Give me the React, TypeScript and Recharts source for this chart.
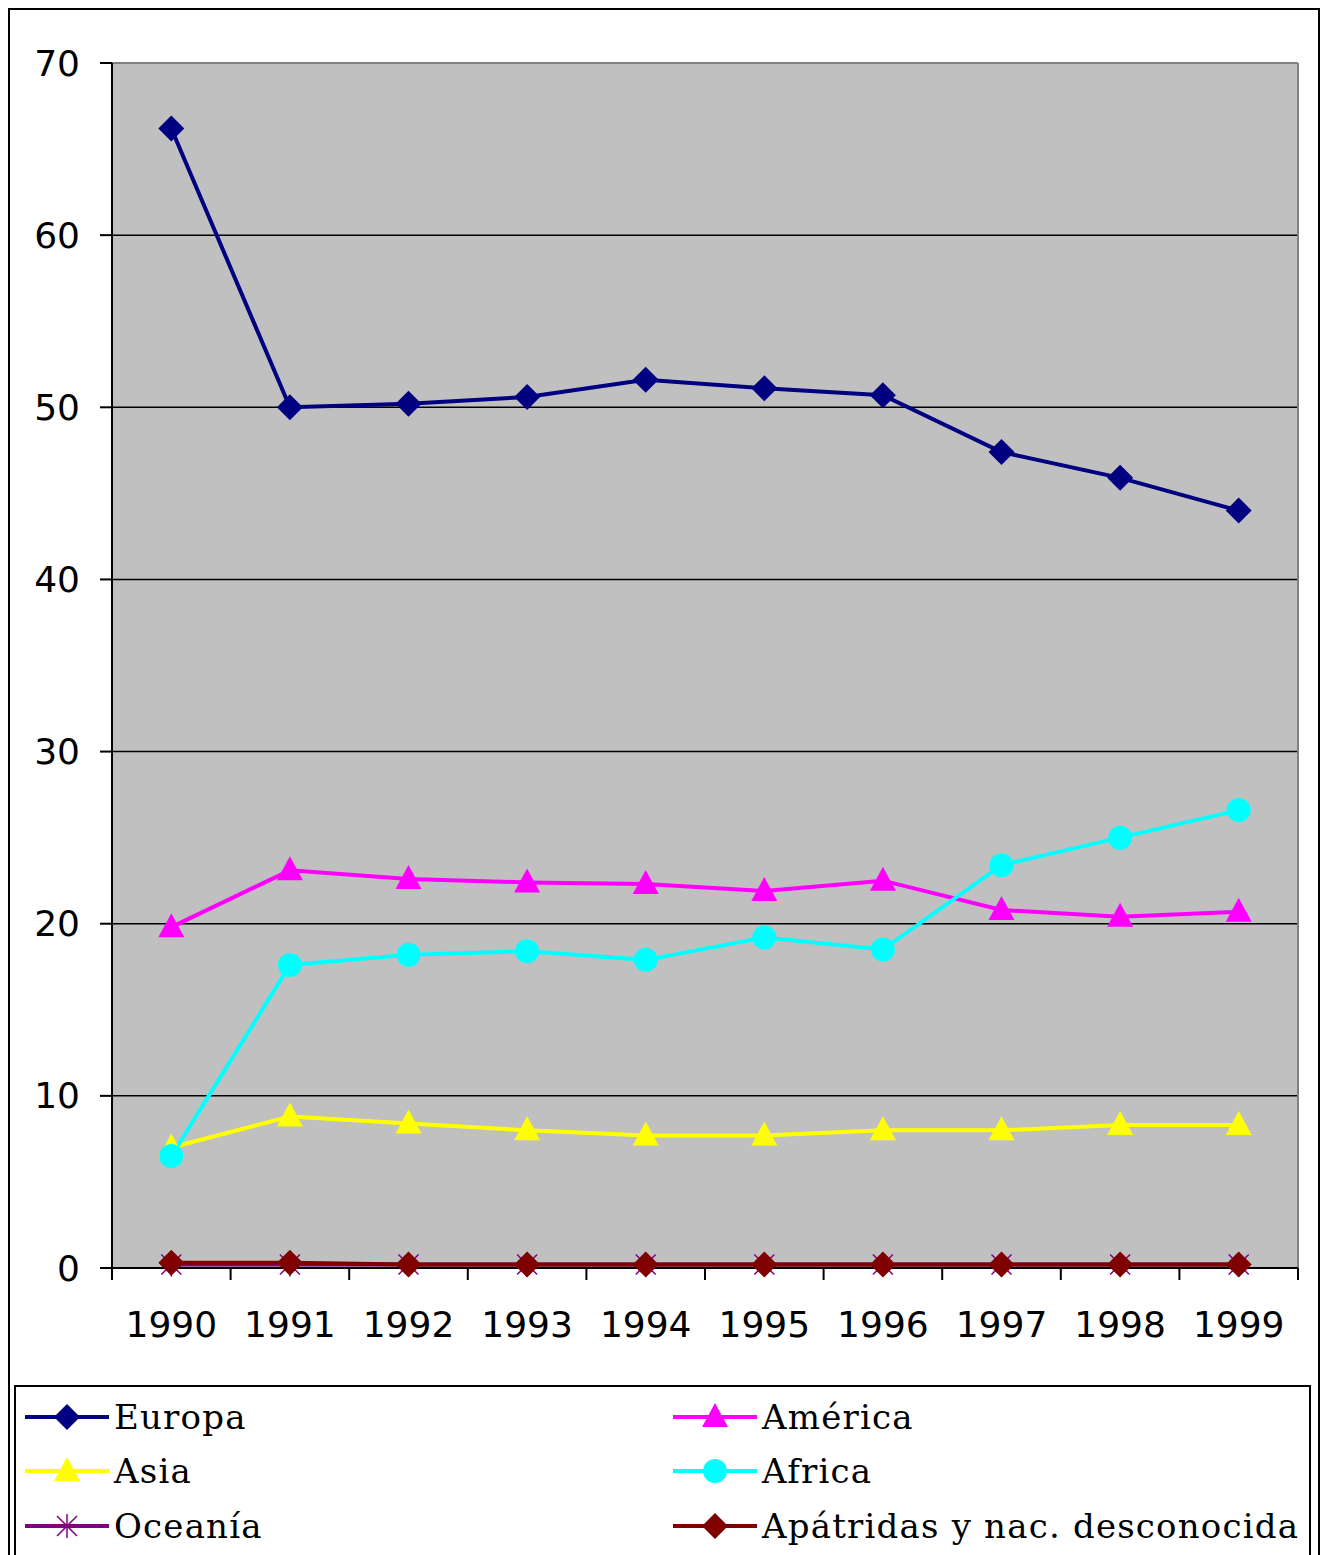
import React from 'react';
import { LineChart, Line, XAxis, YAxis, CartesianGrid, ReferenceLine } from 'recharts';

const years = [1990, 1991, 1992, 1993, 1994, 1995, 1996, 1997, 1998, 1999];
const europa = [66.2, 50.0, 50.2, 50.6, 51.6, 51.1, 50.7, 47.4, 45.9, 44.0];
const america = [19.8, 23.1, 22.6, 22.4, 22.3, 21.9, 22.5, 20.8, 20.4, 20.7];
const asia = [7.0, 8.8, 8.4, 8.0, 7.7, 7.7, 8.0, 8.0, 8.3, 8.3];
const africa = [6.5, 17.6, 18.2, 18.4, 17.9, 19.2, 18.5, 23.4, 25.0, 26.6];
const oceania = [0.2, 0.2, 0.2, 0.2, 0.2, 0.2, 0.2, 0.2, 0.2, 0.2];
const apatridas = [0.3, 0.3, 0.2, 0.2, 0.2, 0.2, 0.2, 0.2, 0.2, 0.2];
const yTicks = [0, 10, 20, 30, 40, 50, 60, 70];

const series = [
  { key: 'europa', name: 'Europa', values: europa, color: '#000080', marker: 'diamond' },
  { key: 'america', name: 'América', values: america, color: '#ff00ff', marker: 'triangle' },
  { key: 'asia', name: 'Asia', values: asia, color: '#ffff00', marker: 'triangle' },
  { key: 'africa', name: 'Africa', values: africa, color: '#00ffff', marker: 'circle' },
  { key: 'oceania', name: 'Oceanía', values: oceania, color: '#800080', marker: 'star' },
  { key: 'apatridas', name: 'Apátridas y nac. desconocida', values: apatridas, color: '#800000', marker: 'diamond' },
];

const data = years.map((year, i) => {
  const row: any = { year };
  series.forEach(s => { row[s.key] = s.values[i]; });
  return row;
});

// plot box
const PLOT_LEFT = 112;
const PLOT_RIGHT = 1298;
const PLOT_TOP = 63;
const PLOT_BOTTOM = 1268;
const BAND = (PLOT_RIGHT - PLOT_LEFT) / years.length;

function Marker({ type, color, cx, cy }: { type: string; color: string; cx: number; cy: number }) {
  if (type === 'diamond') {
    return <polygon points={`${cx},${cy - 13} ${cx + 13},${cy} ${cx},${cy + 13} ${cx - 13},${cy}`} fill={color} />;
  }
  if (type === 'triangle') {
    return <polygon points={`${cx},${cy - 14} ${cx + 13},${cy + 10} ${cx - 13},${cy + 10}`} fill={color} />;
  }
  if (type === 'circle') {
    return <circle cx={cx} cy={cy} r={12} fill={color} />;
  }
  return (
    <g stroke={color} strokeWidth={1.5}>
      <line x1={cx - 10} y1={cy - 10} x2={cx + 10} y2={cy + 10} />
      <line x1={cx - 10} y1={cy + 10} x2={cx + 10} y2={cy - 10} />
      <line x1={cx} y1={cy - 12} x2={cx} y2={cy + 12} />
    </g>
  );
}

const XTick = (props: any) => {
  const { x, y, payload, index } = props;
  const last = index === years.length - 1;
  return (
    <g>
      <line x1={x - BAND / 2} y1={y} x2={x - BAND / 2} y2={y + 12} stroke="#000" strokeWidth={2} />
      {last && <line x1={x + BAND / 2} y1={y} x2={x + BAND / 2} y2={y + 12} stroke="#000" strokeWidth={2} />}
      <text x={x} y={y + 56} textAnchor="middle" dominantBaseline="central"
        fontFamily="DejaVu Sans" fontSize={36} fill="#000">{payload.value}</text>
    </g>
  );
};

const YTick = (props: any) => {
  const { x, y, payload } = props;
  return (
    <text x={x} y={y} textAnchor="end" dominantBaseline="central"
      fontFamily="DejaVu Sans" fontSize={36} fill="#000">{payload.value}</text>
  );
};

function LegendBox() {
  const rows = [30, 84, 139];
  const cols = [9, 657];
  return (
    <div style={{
      position: 'absolute', left: 14, top: 1385, width: 1293, height: 200,
      border: '2px solid #000', background: '#fff',
    }}>
      {series.map((s, i) => {
        const left = cols[i % 2];
        const top = rows[Math.floor(i / 2)];
        return (
          <div key={s.key} style={{ position: 'absolute', left, top: top - 20, height: 40, display: 'flex', alignItems: 'center' }}>
            <svg width={84} height={40} style={{ display: 'block' }}>
              <line x1={0} y1={20} x2={84} y2={20} stroke={s.color} strokeWidth={4} />
              <Marker type={s.marker} color={s.color} cx={42} cy={20} />
            </svg>
            <span style={{ marginLeft: 5, fontFamily: 'DejaVu Serif', fontSize: 34, letterSpacing: 1.2, color: '#000', whiteSpace: 'nowrap', lineHeight: '40px' }}>
              {s.name}
            </span>
          </div>
        );
      })}
    </div>
  );
}

export default function App() {
  return (
    <div style={{ position: 'absolute', left: 0, top: 0, width: 1324, height: 1555, overflow: 'hidden', background: '#fff' }}>
      <div style={{ position: 'absolute', left: 8, top: 8, width: 1308, height: 1600, border: '2px solid #000' }} />
      <div style={{ position: 'absolute', left: 0, top: 0 }}>
        <LineChart width={1324} height={1555} data={data}
          margin={{ top: PLOT_TOP, right: 1324 - PLOT_RIGHT, bottom: 0, left: 0 }}>
          <CartesianGrid vertical={false} stroke="#000" strokeWidth={1.5} fill="#c0c0c0" fillOpacity={1} />
          <ReferenceLine y={70} stroke="#808080" strokeWidth={2} />
          <ReferenceLine x={1999.5} stroke="#808080" strokeWidth={2} />
          <XAxis dataKey="year" type="number" domain={[1989.5, 1999.5]} ticks={years}
            height={1555 - PLOT_BOTTOM} tickLine={false} tickSize={0} tickMargin={0}
            axisLine={{ stroke: '#000', strokeWidth: 2 }} tick={<XTick />} interval={0} />
          <YAxis domain={[0, 70]} ticks={yTicks} width={PLOT_LEFT} tickSize={12} tickMargin={20}
            tickLine={{ stroke: '#000', strokeWidth: 2 }} axisLine={{ stroke: '#000', strokeWidth: 2 }}
            tick={<YTick />} interval={0} />
          {series.map(s => (
            <Line key={s.key} dataKey={s.key} name={s.name} stroke={s.color} strokeWidth={4}
              type="linear" isAnimationActive={false}
              dot={(p: any) => <Marker key={`${s.key}-${p.index}`} type={s.marker} color={s.color} cx={p.cx} cy={p.cy} />}
              activeDot={false} />
          ))}
        </LineChart>
      </div>
      <LegendBox />
    </div>
  );
}
